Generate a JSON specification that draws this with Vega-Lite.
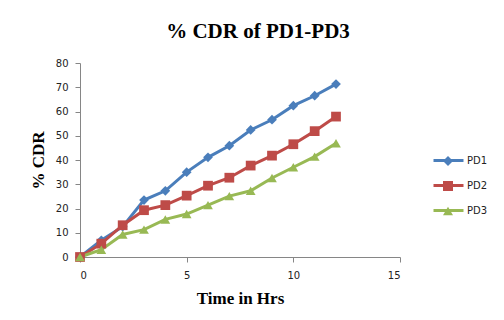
{
  "$schema": "https://vega.github.io/schema/vega-lite/v6.json",
  "width": 320,
  "height": 194,
  "autosize": {"type": "none"},
  "padding": {"left": 80, "top": 63, "right": 104, "bottom": 63},
  "background": "white",
  "title": {
    "text": "% CDR of PD1-PD3",
    "font": "Liberation Serif",
    "fontSize": 21,
    "fontWeight": "bold",
    "color": "#000000",
    "anchor": "middle",
    "frame": "group",
    "dx": 18,
    "offset": 16
  },
  "config": {
    "view": {"stroke": null},
    "axis": {
      "grid": false,
      "domainColor": "#868686",
      "tickColor": "#868686",
      "tickSize": 5,
      "labelFont": "DejaVu Sans",
      "labelFontSize": 10,
      "labelColor": "#222222",
      "titleFont": "Liberation Serif",
      "titleFontSize": 17,
      "titleFontWeight": "bold",
      "titleColor": "#000000"
    }
  },
  "data": {
    "values": [
      {"t": 0, "s": "PD1", "v": 0},
      {"t": 1, "s": "PD1", "v": 6.9},
      {"t": 2, "s": "PD1", "v": 12.5},
      {"t": 3, "s": "PD1", "v": 23.5},
      {"t": 4, "s": "PD1", "v": 27.3},
      {"t": 5, "s": "PD1", "v": 35.0},
      {"t": 6, "s": "PD1", "v": 41.1},
      {"t": 7, "s": "PD1", "v": 45.9},
      {"t": 8, "s": "PD1", "v": 52.4},
      {"t": 9, "s": "PD1", "v": 56.6},
      {"t": 10, "s": "PD1", "v": 62.4},
      {"t": 11, "s": "PD1", "v": 66.5},
      {"t": 12, "s": "PD1", "v": 71.3},
      {"t": 0, "s": "PD2", "v": 0},
      {"t": 1, "s": "PD2", "v": 5.5},
      {"t": 2, "s": "PD2", "v": 13.1},
      {"t": 3, "s": "PD2", "v": 19.3},
      {"t": 4, "s": "PD2", "v": 21.4},
      {"t": 5, "s": "PD2", "v": 25.3},
      {"t": 6, "s": "PD2", "v": 29.4},
      {"t": 7, "s": "PD2", "v": 32.7},
      {"t": 8, "s": "PD2", "v": 37.7},
      {"t": 9, "s": "PD2", "v": 41.8},
      {"t": 10, "s": "PD2", "v": 46.5},
      {"t": 11, "s": "PD2", "v": 51.9},
      {"t": 12, "s": "PD2", "v": 57.9},
      {"t": 0, "s": "PD3", "v": 0},
      {"t": 1, "s": "PD3", "v": 3.0},
      {"t": 2, "s": "PD3", "v": 9.3},
      {"t": 3, "s": "PD3", "v": 11.3},
      {"t": 4, "s": "PD3", "v": 15.5},
      {"t": 5, "s": "PD3", "v": 17.7},
      {"t": 6, "s": "PD3", "v": 21.4},
      {"t": 7, "s": "PD3", "v": 25.1},
      {"t": 8, "s": "PD3", "v": 27.3},
      {"t": 9, "s": "PD3", "v": 32.6},
      {"t": 10, "s": "PD3", "v": 37.0},
      {"t": 11, "s": "PD3", "v": 41.4},
      {"t": 12, "s": "PD3", "v": 46.9}
    ]
  },
  "encoding": {
    "x": {
      "field": "t",
      "type": "quantitative",
      "scale": {"domain": [0, 15], "nice": false, "zero": true},
      "axis": {"values": [0, 5, 10, 15], "title": "Time in Hrs", "labelPadding": 8, "titlePadding": 10}
    },
    "y": {
      "field": "v",
      "type": "quantitative",
      "scale": {"domain": [0, 80], "nice": false},
      "axis": {"values": [0, 10, 20, 30, 40, 50, 60, 70, 80], "title": "% CDR", "labelPadding": 7, "titlePadding": 8}
    }
  },
  "layer": [
    {
      "mark": {"type": "line", "strokeWidth": 3, "clip": false},
      "encoding": {
        "color": {
          "field": "s",
          "type": "nominal",
          "scale": {"domain": ["PD1", "PD2", "PD3"], "range": ["#4a7ebb", "#be4b48", "#98b954"]},
          "legend": {
            "title": null,
            "orient": "none",
            "legendX": 352,
            "legendY": 81,
            "rowPadding": 2,
            "symbolType": "stroke",
            "symbolSize": 900,
            "symbolStrokeWidth": 3,
            "labelFont": "DejaVu Sans",
            "labelFontSize": 10,
            "labelColor": "#222222",
            "labelOffset": 2
          }
        }
      }
    },
    {
      "mark": {"type": "point", "filled": true, "size": 95, "opacity": 1, "clip": false},
      "encoding": {
        "fill": {
          "field": "s",
          "type": "nominal",
          "scale": {"range": ["#4a7ebb", "#be4b48", "#98b954"]},
          "legend": {
            "title": null,
            "orient": "none",
            "legendX": 362,
            "legendY": 92,
            "rowPadding": 9,
            "symbolSize": 100,
            "labelExpr": "''",
            "labelFontSize": 10,
            "labelOffset": 0
          }
        },
        "shape": {
          "field": "s",
          "type": "nominal",
          "scale": {"range": ["diamond", "square", "triangle-up"]}
        }
      }
    }
  ]
}
